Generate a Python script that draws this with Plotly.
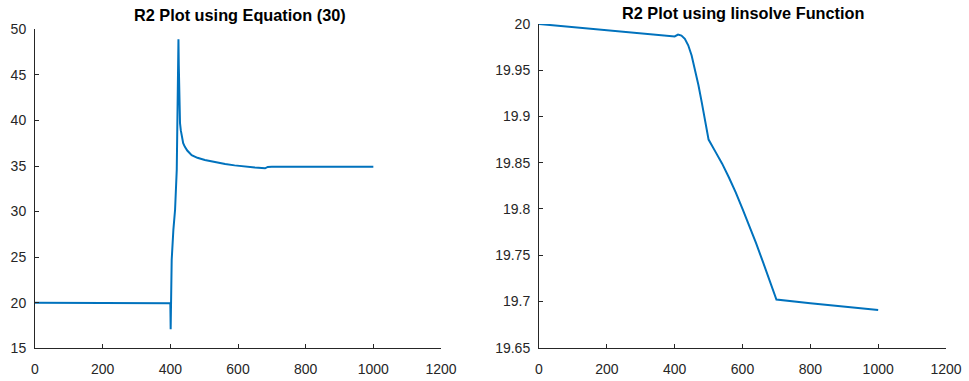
import plotly.graph_objects as go

# Left panel: R2 using Equation (30)
x_eq = [0, 100, 200, 300, 400, 401, 402, 404, 409, 414, 419, 422, 424, 425, 426, 427.5,
        428.6, 431, 433.5, 438, 443, 450, 463, 480, 502, 530, 562, 590, 621, 650, 680,
        688, 700, 800, 900, 1000]
r2_eq = [20.0, 19.99, 19.97, 19.96, 19.95, 17.1, 21.5, 24.7, 28.0, 30.2, 34.6, 40.8, 48.9,
         46.0, 43.5, 41.0, 39.7, 38.9, 38.2, 37.5, 37.1, 36.7, 36.2, 35.9, 35.66, 35.42,
         35.22, 35.07, 34.93, 34.83, 34.75, 34.9, 34.93, 34.93, 34.93, 34.93]

# Right panel: R2 using linsolve
x_ls = [0, 100, 200, 300, 400, 410, 420, 430, 440, 450, 460, 470, 480, 490, 500,
        520, 540, 560, 580, 600, 620, 640, 660, 680, 700, 800, 900, 1000]
r2_ls = [20.0, 19.9966, 19.9932, 19.9898, 19.9865, 19.9885, 19.9875, 19.984, 19.977,
         19.966, 19.951, 19.934, 19.915, 19.895, 19.875, 19.862, 19.849, 19.834,
         19.818, 19.800, 19.782, 19.763, 19.743, 19.723, 19.702, 19.698, 19.694, 19.6908]

x_ticks = [0, 200, 400, 600, 800, 1000, 1200]
y_ticks_left = [15, 20, 25, 30, 35, 40, 45, 50]
y_ticks_right = [19.65, 19.7, 19.75, 19.8, 19.85, 19.9, 19.95, 20]
y_labels_right = ["19.65", "19.7", "19.75", "19.8", "19.85", "19.9", "19.95", "20"]

W, H = 969, 381
LINE = "#0072BD"
AX = "#262626"
FONT = "Liberation Sans, Arial, Helvetica, sans-serif"

fig = go.Figure()
fig.add_trace(go.Scatter(x=x_eq, y=r2_eq, mode="lines", line=dict(color=LINE, width=2),
                         xaxis="x", yaxis="y", showlegend=False))
fig.add_trace(go.Scatter(x=x_ls, y=r2_ls, mode="lines", line=dict(color=LINE, width=2),
                         xaxis="x2", yaxis="y2", showlegend=False))

common = dict(showgrid=False, zeroline=False, showline=True, linecolor=AX, linewidth=1,
              ticks="inside", ticklen=4, tickcolor=AX, tickwidth=1, automargin=False,
              tickfont=dict(family=FONT, size=14, color=AX), mirror=False)

fig.update_layout(
    width=W, height=H, margin=dict(l=0, r=0, t=0, b=0, autoexpand=False),
    paper_bgcolor="white", plot_bgcolor="white",
    xaxis=dict(domain=[35 / W, 441 / W], range=[0, 1200], tickvals=x_ticks,
               anchor="y", ticklabelstandoff=8, **common),
    yaxis=dict(domain=[1 - 348.3 / H, 1 - 29.3 / H], range=[15, 50], tickvals=y_ticks_left,
               anchor="x", ticklabelstandoff=5, **common),
    xaxis2=dict(domain=[539 / W, 946 / W], range=[0, 1200], tickvals=x_ticks,
                anchor="y2", ticklabelstandoff=8, **common),
    yaxis2=dict(domain=[1 - 347.7 / H, 1 - 24 / H], range=[19.65, 20],
                tickvals=y_ticks_right, ticktext=y_labels_right, anchor="x2",
                ticklabelstandoff=5, **common),
    annotations=[
        dict(text="<b>R2 Plot using Equation (30)</b>", x=239.5 / W, y=1 - 15 / H,
             xref="paper", yref="paper", showarrow=False, xanchor="center", yanchor="middle",
             font=dict(family=FONT, size=16.3, color="black")),
        dict(text="<b>R2 Plot using linsolve Function</b>", x=742.5 / W, y=1 - 13 / H,
             xref="paper", yref="paper", showarrow=False, xanchor="center", yanchor="middle",
             font=dict(family=FONT, size=16.3, color="black")),
    ],
)

fig.write_html("out.html")
